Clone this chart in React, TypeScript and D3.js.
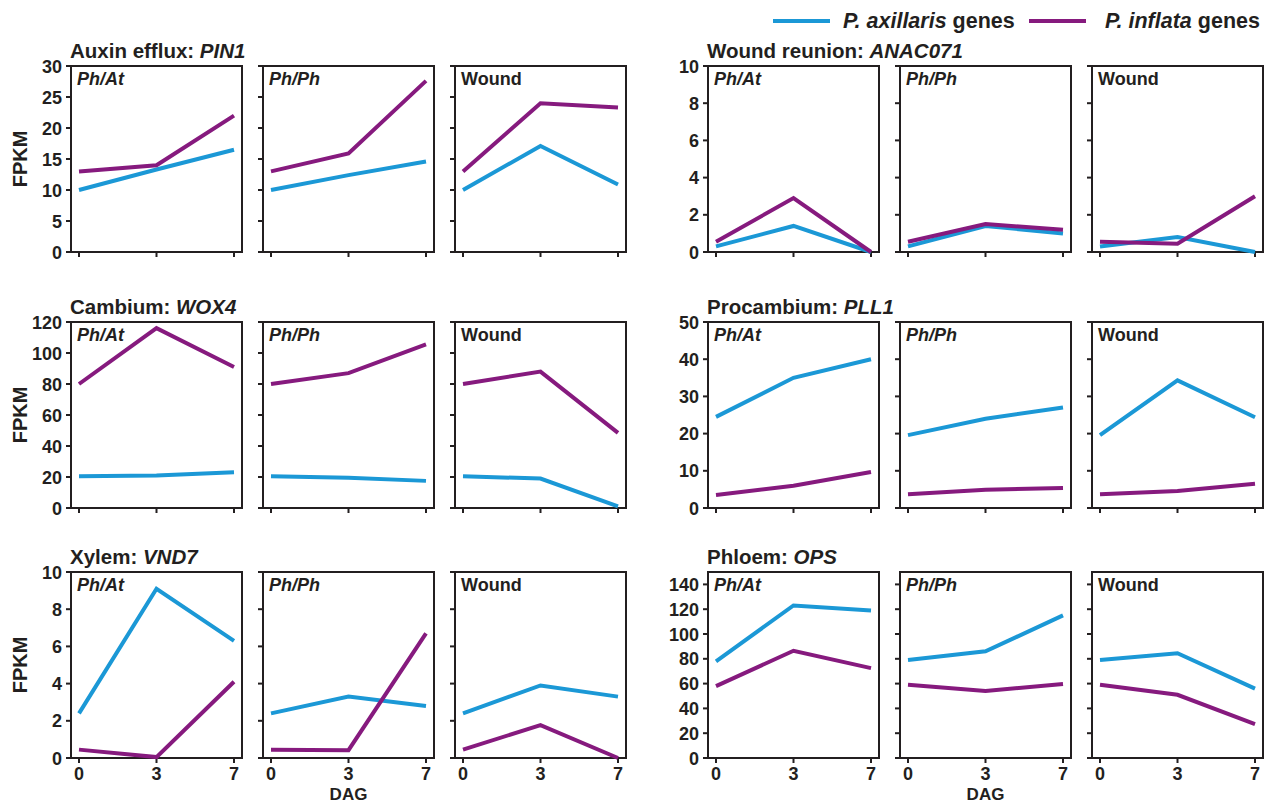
import React from "react";
import { scalePoint, scaleLinear, line, range } from "d3";

const width = 1266;
const height = 804;

// Data setup
const dag = ["0", "3", "7"];
const treatments = ["Ph/At", "Ph/Ph", "Wound"];
const seriesNames = ["P. axillaris", "P. inflata"];

// values per treatment (Ph/At, Ph/Ph, Wound), each at 0, 3, 7 DAG
const pin1Axillaris = [[10, 13.3, 16.5], [10, 12.4, 14.6], [10, 17.1, 10.9]];
const pin1Inflata = [[13, 14, 22], [13, 15.9, 27.6], [13, 24, 23.3]];

const anac071Axillaris = [[0.3, 1.4, 0], [0.3, 1.4, 1.0], [0.3, 0.8, 0]];
const anac071Inflata = [[0.55, 2.9, 0], [0.55, 1.5, 1.2], [0.55, 0.45, 3.0]];

const wox4Axillaris = [[20.5, 21, 23], [20.5, 19.5, 17.5], [20.5, 19, 1]];
const wox4Inflata = [[80, 116, 91], [80, 87, 105.5], [80, 88, 48.5]];

const pll1Axillaris = [[24.5, 35, 40], [19.6, 24, 27], [19.6, 34.3, 24.4]];
const pll1Inflata = [[3.5, 6, 9.7], [3.7, 4.9, 5.4], [3.7, 4.6, 6.5]];

const vnd7Axillaris = [[2.4, 9.1, 6.3], [2.4, 3.3, 2.8], [2.4, 3.9, 3.3]];
const vnd7Inflata = [[0.45, 0.05, 4.1], [0.45, 0.42, 6.7], [0.45, 1.77, 0]];

const opsAxillaris = [[78, 123, 119], [79, 86, 115], [79, 84.5, 56]];
const opsInflata = [[58, 86.5, 72.5], [59, 54, 59.7], [59, 51, 27.4]];

const genes = [
  { label: "Auxin efflux: ", gene: "PIN1", yMax: 30, step: 5, axillaris: pin1Axillaris, inflata: pin1Inflata },
  { label: "Wound reunion: ", gene: "ANAC071", yMax: 10, step: 2, axillaris: anac071Axillaris, inflata: anac071Inflata },
  { label: "Cambium: ", gene: "WOX4", yMax: 120, step: 20, axillaris: wox4Axillaris, inflata: wox4Inflata },
  { label: "Procambium: ", gene: "PLL1", yMax: 50, step: 10, axillaris: pll1Axillaris, inflata: pll1Inflata },
  { label: "Xylem: ", gene: "VND7", yMax: 10, step: 2, axillaris: vnd7Axillaris, inflata: vnd7Inflata },
  { label: "Phloem: ", gene: "OPS", yMax: 150, step: 20, axillaris: opsAxillaris, inflata: opsInflata },
];

// layout
const blue = "#1b98d6";
const purple = "#861a7e";
const ink = "#231f20";
const font = "'Liberation Sans', Arial, sans-serif";

const groupX = [71, 708];
const rowTop = [66, 322, 572];
const panelW = 171;
const panelH = 186;
const panelStep = 192;
const pad = 8;

const Panel = ({ x, y, gene, t, isBottom, showLabels }) => {
  const xScale = scalePoint()
    .domain(dag)
    .range([x + pad, x + panelW - pad]);
  const yScale = scaleLinear()
    .domain([0, gene.yMax])
    .range([y + panelH, y]);
  const ticks = range(0, gene.yMax + 0.001, gene.step);
  const gen = line()
    .x((d, i) => xScale(dag[i]))
    .y((d) => yScale(d));

  return (
    <g>
      <rect x={x} y={y} width={panelW} height={panelH} fill="none" stroke={ink} strokeWidth={2} />
      {ticks.map((v) => (
        <g key={v}>
          <line x1={x - 5} x2={x} y1={yScale(v)} y2={yScale(v)} stroke={ink} strokeWidth={2} />
          {showLabels && (
            <text x={x - 9} y={yScale(v) + 6.5} textAnchor="end" fontSize={18} fontWeight="bold" fill={ink}>
              {v}
            </text>
          )}
        </g>
      ))}
      {dag.map((d) => (
        <g key={d}>
          <line x1={xScale(d)} x2={xScale(d)} y1={y + panelH} y2={y + panelH + 5} stroke={ink} strokeWidth={2} />
          {isBottom && (
            <text x={xScale(d)} y={y + panelH + 22} textAnchor="middle" fontSize={18} fontWeight="bold" fill={ink}>
              {d}
            </text>
          )}
        </g>
      ))}
      <text
        x={x + 6}
        y={y + 19}
        fontSize={18}
        fontWeight="bold"
        fontStyle={treatments[t] === "Wound" ? "normal" : "italic"}
        fill={ink}
      >
        {treatments[t]}
      </text>
      <path d={gen(gene.axillaris[t])} fill="none" stroke={blue} strokeWidth={4} />
      <path d={gen(gene.inflata[t])} fill="none" stroke={purple} strokeWidth={4} />
    </g>
  );
};

export default function App() {
  return (
    <svg width={width} height={height} style={{ position: "absolute", left: 0, top: 0 }} fontFamily={font}>
      {/* legend */}
      <line x1={773} x2={830} y1={21} y2={21} stroke={blue} strokeWidth={4} />
      <text x={843} y={28} fontSize={21.5} fill={ink} fontWeight="bold">
        <tspan fontStyle="italic">{seriesNames[0]}</tspan> genes
      </text>
      <line x1={1029} x2={1086} y1={21} y2={21} stroke={purple} strokeWidth={4} />
      <text x={1105} y={28} fontSize={21.5} fill={ink} fontWeight="bold">
        <tspan fontStyle="italic">{seriesNames[1]}</tspan> genes
      </text>

      {genes.map((g, gi) => {
        const col = gi % 2;
        const row = Math.floor(gi / 2);
        const gx = groupX[col];
        const gy = rowTop[row];
        return (
          <g key={g.gene}>
            <text x={gx - 1} y={gy - 8} fontSize={20.5} fontWeight="bold" fill={ink}>
              {g.label}
              <tspan fontStyle="italic">{g.gene}</tspan>
            </text>
            {col === 0 && (
              <text
                transform={`translate(${gx - 44},${gy + panelH / 2}) rotate(-90)`}
                textAnchor="middle"
                fontSize={20}
                fontWeight="bold"
                fill={ink}
              >
                FPKM
              </text>
            )}
            {treatments.map((tr, t) => (
              <Panel
                key={tr}
                x={gx + t * panelStep}
                y={gy}
                gene={g}
                t={t}
                isBottom={row === 2}
                showLabels={t === 0}
              />
            ))}
            {row === 2 && (
              <text
                x={gx + panelStep + panelW / 2}
                y={gy + panelH + 42}
                textAnchor="middle"
                fontSize={17}
                fontWeight="bold"
                fill={ink}
              >
                DAG
              </text>
            )}
          </g>
        );
      })}
    </svg>
  );
}
